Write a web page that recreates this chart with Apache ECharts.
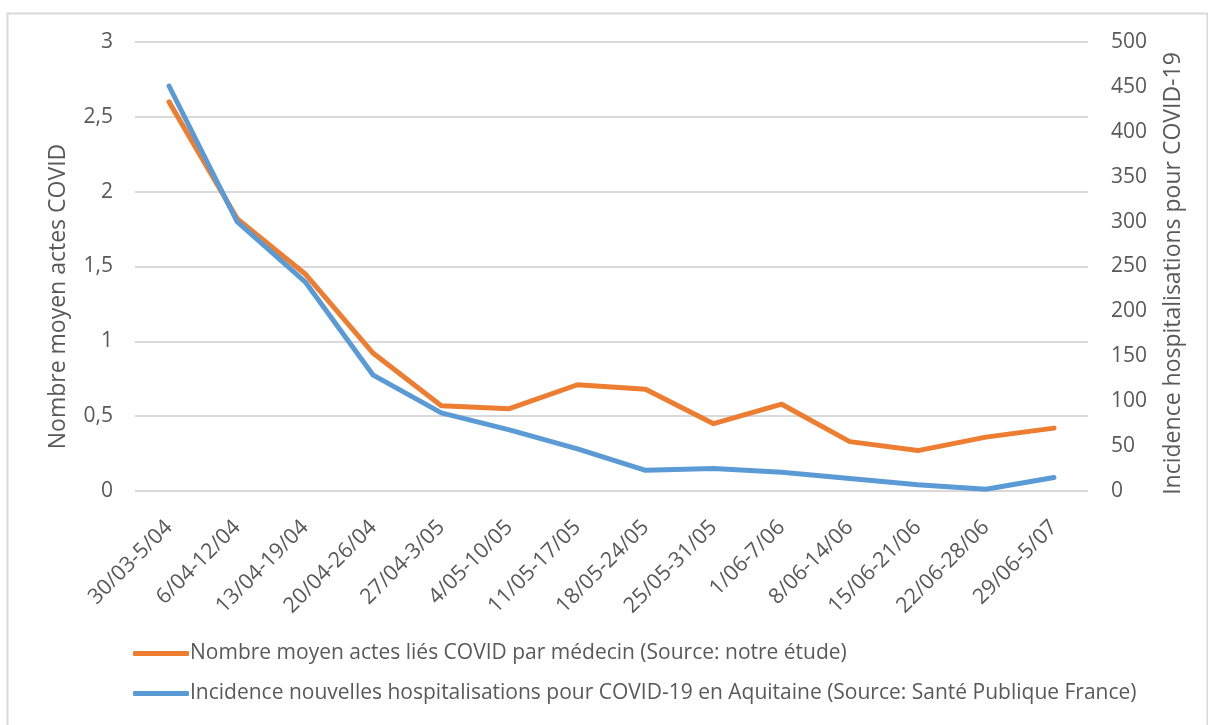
<!DOCTYPE html>
<html>
<head>
<meta charset="utf-8">
<script src="https://cdn.jsdelivr.net/npm/echarts@6/dist/echarts.min.js"></script>
<style>
  html, body { margin: 0; padding: 0; background: #fff; }
  #chart { width: 1208px; height: 725px; }
</style>
</head>
<body>
<div id="chart"></div>
<script>
const weeks = ['30/03-5/04', '6/04-12/04', '13/04-19/04', '20/04-26/04', '27/04-3/05', '4/05-10/05',
  '11/05-17/05', '18/05-24/05', '25/05-31/05', '1/06-7/06', '8/06-14/06', '15/06-21/06',
  '22/06-28/06', '29/06-5/07'];
const actesMoyens = [2.60, 1.82, 1.45, 0.92, 0.57, 0.55, 0.71, 0.68, 0.45, 0.58, 0.33, 0.27, 0.36, 0.42];
const hospitalisations = [451, 300, 233, 129, 87, 68, 47, 23, 25, 21, 14, 7, 2, 15];

const nameActes = 'Nombre moyen actes liés COVID par médecin (Source: notre étude)';
const nameHosp = 'Incidence nouvelles hospitalisations pour COVID-19 en Aquitaine (Source: Santé Publique France)';

const textColor = '#595959';
const font = '"Open Sans", sans-serif';

const chart = echarts.init(document.getElementById('chart'));
chart.setOption({
  animation: false,
  backgroundColor: '#fff',
  textStyle: { fontFamily: font, color: textColor },
  graphic: [{
    type: 'rect',
    shape: { x: 7.5, y: 13.5, width: 1200, height: 720 },
    style: { fill: 'none', stroke: '#d9d9d9', lineWidth: 2 },
    silent: true
  }],
  grid: { left: 135, right: 120, top: 42, bottom: 234 },
  legend: {
    orient: 'vertical',
    left: 128,
    top: 638,
    itemGap: 19,
    itemWidth: 56,
    itemHeight: 5,
    icon: 'roundRect',
    textStyle: { fontSize: 21, color: textColor, fontFamily: font, padding: [0, 0, 0, -4] },
    data: [nameActes, nameHosp]
  },
  xAxis: {
    type: 'category',
    data: weeks,
    axisLine: { show: false },
    axisTick: { show: false },
    axisLabel: { rotate: 45, fontSize: 21.5, color: textColor, margin: 33, interval: 0 }
  },
  yAxis: [{
    type: 'value',
    min: 0, max: 3, interval: 0.5,
    name: 'Nombre moyen actes COVID',
    nameLocation: 'middle',
    nameGap: 65,
    nameTextStyle: { fontSize: 23, color: textColor, padding: [0, 60, 0, 0] },
    axisLabel: {
      fontSize: 21, color: textColor, margin: 22,
      formatter: v => String(v).replace('.', ',')
    },
    splitLine: { lineStyle: { color: '#d9d9d9', width: 2 } },
    axisLine: { show: false },
    axisTick: { show: false }
  }, {
    type: 'value',
    min: 0, max: 500, interval: 50,
    name: 'Incidence hospitalisations pour COVID-19',
    nameLocation: 'middle',
    nameGap: 74,
    nameRotate: 90,
    nameTextStyle: { fontSize: 23, color: textColor, padding: [0, 14, 0, 0] },
    axisLabel: { fontSize: 21, color: textColor, margin: 23 },
    splitLine: { show: false },
    axisLine: { show: false },
    axisTick: { show: false }
  }],
  series: [{
    name: nameActes,
    type: 'line',
    yAxisIndex: 0,
    data: actesMoyens,
    symbol: 'none',
    lineStyle: { color: '#ED7D31', width: 5, cap: 'round', join: 'round' },
    itemStyle: { color: '#ED7D31' }
  }, {
    name: nameHosp,
    type: 'line',
    yAxisIndex: 1,
    data: hospitalisations,
    symbol: 'none',
    lineStyle: { color: '#5B9BD5', width: 5, cap: 'round', join: 'round' },
    itemStyle: { color: '#5B9BD5' }
  }]
});
</script>
</body>
</html>
